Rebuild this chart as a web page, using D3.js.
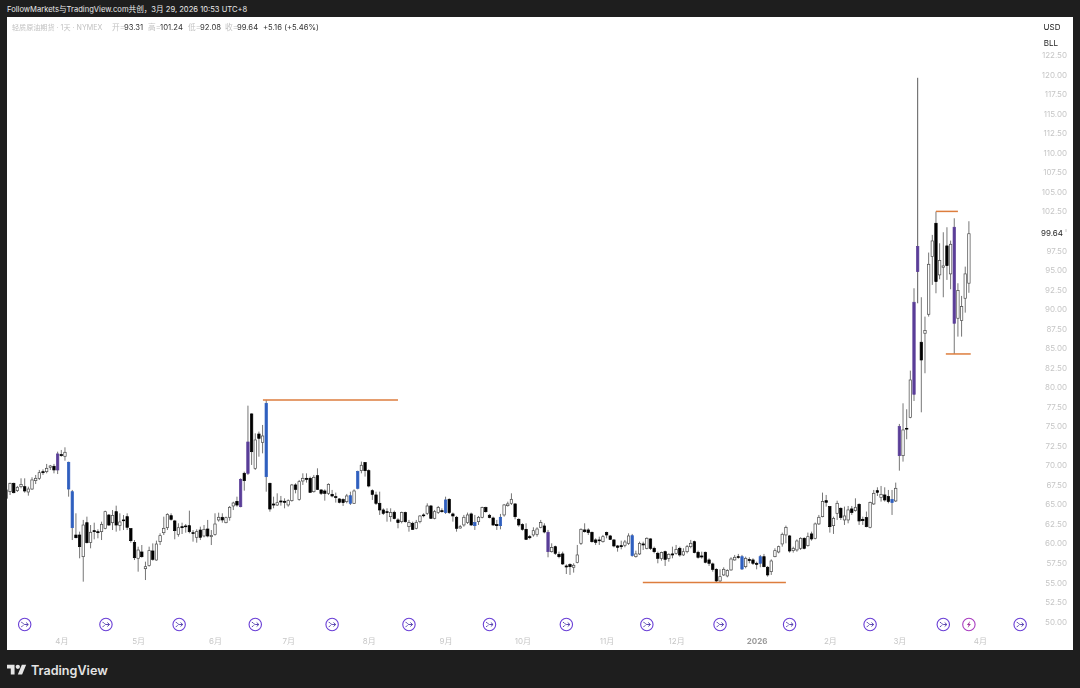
<!DOCTYPE html>
<html><head><meta charset="utf-8">
<script src="https://cdn.jsdelivr.net/npm/d3@7/dist/d3.min.js"></script>
<style>
html,body{margin:0;padding:0;background:#1e1e1e;width:1080px;height:688px;overflow:hidden}
text{font-family:Inter,"Noto Sans CJK SC",sans-serif}
</style></head><body>
<svg id="c" width="1080" height="688"></svg>
<script>
const opens=[65.77,66.62,67.69,66.75,67.26,67.26,66.58,66.96,68.03,68.33,69.18,69.18,69.74,69.87,69.40,71.36,71.15,70.38,66.62,61.07,61.07,58.30,62.65,60.13,61.63,61.50,61.50,61.93,63.63,62.65,64.06,62.31,63.0,63.42,61.89,60.13,58.09,58.90,56.76,57.15,59.03,57.87,60.22,61.37,62.01,63.55,62.87,61.16,62.14,62.23,62.27,61.37,60.78,61.71,60.95,61.84,60.86,61.12,63.0,63.34,62.65,63.34,64.79,65.38,64.70,68.97,68.97,76.57,69.61,74.0,72.94,68.54,67.69,65.04,64.91,65.43,65.39,64.92,65.47,67.48,65.64,67.99,68.33,68.33,66.62,68.67,66.84,66.71,66.41,66.28,65.98,65.69,65.6,65.34,66.11,65.13,67.05,69.31,70.34,69.31,66.75,66.2,65.13,64.28,64.06,63.42,63.98,63.0,62.78,63.94,62.14,62.57,61.93,62.78,63.64,63.85,64.79,63.21,63.94,64.19,63.94,65.64,63.77,63.34,61.97,62.36,62.66,63.77,62.66,62.78,63.34,64.58,63.6,63.25,62.4,62.27,63.64,64.83,65.13,65.05,63.08,62.4,61.8,60.86,61.08,61.16,62.06,62.23,61.42,58.94,59.58,58.6,58.65,57.11,57.28,56.94,57.54,60.01,61.72,61.72,61.42,60.44,60.44,60.22,61.38,60.95,60.44,59.67,59.71,59.76,60.01,60.99,58.3,58.65,59.93,59.37,60.57,59.37,58.73,58.05,58.94,58.05,58.65,58.73,59.37,58.52,58.94,59.58,60.22,58.86,58.39,58.86,57.88,57.37,56.68,55.19,55.96,55.83,56.6,57.88,58.3,56.72,57.02,57.92,57.88,57.45,57.45,58.3,56.94,56.38,58.3,58.9,59.93,61.08,60.95,59.07,59.16,59.37,60.65,59.71,61.21,60.65,62.49,63.42,65.47,64.71,62.27,63.85,64.49,63.0,63.0,64.41,64.19,65.0,63.08,63.3,62.06,65.05,66.75,65.86,66.2,65.99,65.64,65.43,71.23,71.23,74.73,76.14,79.09,94.79,85.75,86.9,89.33,96.71,100.98,94.37,95.35,98.08,94.5,100.47,88.82,88.52,91.38,93.31];
const highs=[67.26,67.77,67.77,67.35,68.33,68.33,67.26,68.46,68.76,69.40,69.48,70.17,70.04,70.17,71.74,71.96,72.30,70.46,66.84,63.85,61.50,63.0,63.42,62.35,62.65,61.80,62.78,64.19,63.76,64.27,64.83,63.85,63.63,63.85,61.93,60.43,59.58,59.79,57.66,59.58,60.0,60.35,61.29,63.42,63.85,63.85,63.0,62.57,62.65,62.48,64.19,61.71,61.80,62.14,62.35,63.0,61.71,63.85,63.93,63.85,63.42,64.79,65.34,65.98,68.33,69.18,77.63,76.65,74.09,74.31,75.16,78.36,67.77,65.98,66.41,66.07,65.77,65.64,67.61,67.69,68.12,68.97,68.97,68.55,68.76,69.61,66.92,66.92,67.69,66.84,66.5,65.77,65.77,66.33,66.62,66.92,69.31,70.47,70.42,69.48,66.92,66.62,66.62,64.49,64.49,64.49,64.19,63.21,64.06,64.06,63.0,62.78,63.0,63.6,63.85,65.13,64.92,64.28,64.79,64.49,65.98,65.77,63.94,63.51,62.36,63.64,63.94,63.94,63.64,63.51,64.7,64.7,63.77,63.42,63.0,63.77,65.05,65.34,66.41,65.13,63.21,62.57,62.57,61.08,62.06,62.06,63.0,62.57,61.72,60.01,59.71,58.94,58.94,57.32,57.45,57.45,59.8,61.93,62.57,61.93,61.5,60.65,60.86,61.08,61.5,61.08,60.52,59.8,60.35,60.44,61.29,61.21,59.07,60.22,60.22,60.78,60.65,59.58,58.94,58.94,59.07,58.73,59.58,59.8,59.58,59.37,59.8,60.44,60.35,59.07,58.94,58.94,58.09,57.54,56.81,56.68,56.94,56.68,58.22,58.52,58.65,58.52,58.3,58.22,58.09,57.66,58.52,58.65,57.11,57.96,59.37,59.71,61.38,62.27,61.08,59.58,60.52,60.78,60.78,61.38,61.5,62.66,63.64,66.5,66.2,64.79,63.42,65.47,64.62,64.71,64.79,64.79,65.77,65.13,63.42,64.07,65.35,66.84,67.18,67.35,67.18,66.84,66.84,67.78,75.29,77.93,77.17,82.12,92.66,119.6,91.51,89.03,97.23,99.49,102.48,98.42,99.83,100.47,98.76,101.62,93.3,91.68,95.43,101.24];
const lows=[65.34,66.20,66.41,66.58,67.05,66.49,66.11,66.84,67.60,68.12,68.76,68.97,69.40,68.97,68.88,71.10,70.59,65.98,60.43,60.65,58.09,55.10,60.0,59.37,60.52,60.65,60.43,61.80,62.23,61.71,61.50,61.63,61.71,61.71,60.09,57.87,56.38,58.17,55.31,57.02,57.79,57.79,59.79,61.07,61.71,62.91,60.52,60.86,61.20,61.37,61.29,60.22,60.09,60.43,60.78,60.78,59.79,60.99,62.78,62.65,62.57,62.91,64.27,64.70,64.62,66.75,68.76,70.04,69.40,71.10,71.53,66.62,64.06,64.49,64.79,64.83,64.49,64.7,65.34,66.41,65.47,67.48,67.78,66.5,66.5,66.84,66.2,65.47,66.2,65.9,65.22,65.13,64.79,65.13,64.92,65.05,66.92,68.97,68.55,67.18,65.56,64.92,63.64,63.64,62.78,62.78,63.08,61.93,62.57,62.66,61.5,61.72,61.8,62.57,63.34,63.64,63.13,63.08,63.77,63.94,63.77,63.77,62.78,61.5,61.89,62.14,62.48,62.23,61.72,62.36,63.21,63.94,63.21,62.23,61.72,61.8,63.42,64.7,64.92,63.08,62.14,61.63,60.44,60.52,60.86,60.86,61.93,61.29,58.22,58.82,58.52,58.09,57.24,56.08,55.96,56.26,57.45,59.8,61.38,61.08,60.1,59.8,59.8,60.1,60.65,60.44,59.5,58.94,59.24,59.5,59.8,58.3,58.18,58.52,59.16,59.24,59.16,58.73,57.45,57.79,57.11,57.66,58.09,58.56,58.3,58.39,58.73,59.37,58.73,58.05,58.05,57.45,57.11,56.38,54.97,54.97,55.83,55.66,56.51,57.79,58.05,56.6,56.81,57.45,57.24,56.68,56.94,56.94,55.74,55.96,58.22,58.73,59.58,60.01,58.82,58.82,58.94,59.16,59.24,59.58,60.35,60.52,62.36,63.34,64.71,61.38,61.21,63.0,63.0,62.36,62.57,63.64,64.07,62.36,62.36,62.06,61.93,64.92,66.07,65.35,65.35,65.13,63.64,65.3,69.31,70.47,73.33,76.02,78.23,90.74,76.78,81.78,89.03,93.09,92.02,93.81,91.51,93.73,92.53,84.25,86.47,86.47,89.54,92.08];
const closes=[66.84,67.69,66.49,67.18,67.52,66.71,66.96,68.12,68.33,69.05,69.05,69.61,69.91,69.40,71.45,71.23,71.66,66.96,62.01,60.73,59.58,62.35,60.09,61.42,61.50,61.37,62.44,64.06,62.35,63.59,62.35,62.74,62.91,62.06,60.35,58.17,59.15,58.30,57.02,59.07,57.96,59.92,60.99,61.93,63.72,63.08,61.63,62.01,62.01,62.14,61.50,61.29,61.50,60.78,61.80,60.95,61.03,62.48,63.34,63.0,63.29,64.62,65.17,64.91,68.20,68.03,72.98,71.74,73.24,73.45,73.75,77.93,64.40,64.91,65.21,65.3,65.26,65.47,67.48,66.92,67.9,68.33,68.2,66.54,68.46,66.92,66.41,66.41,67.56,66.07,65.86,65.26,65.22,66.07,65.13,66.71,69.19,70.0,69.31,67.35,66.28,65.13,64.28,63.85,63.94,63.94,63.17,62.66,63.94,62.78,62.66,61.8,62.7,63.51,63.55,64.79,63.21,64.06,64.58,64.06,65.56,63.94,63.51,61.93,62.14,63.34,63.64,62.36,62.27,63.34,64.58,64.06,63.3,62.36,62.27,63.34,64.92,65.05,65.64,63.42,62.36,61.8,60.52,60.73,61.63,61.84,62.66,61.46,58.94,59.46,58.73,58.3,57.37,56.98,57.02,57.2,58.52,61.8,61.5,61.38,60.22,60.14,60.35,60.86,61.08,60.52,59.67,59.5,59.58,60.18,60.95,58.43,58.65,60.01,59.8,60.65,59.37,58.94,58.09,58.82,57.96,58.6,58.52,59.24,58.52,58.94,59.58,60.01,58.82,58.22,58.26,57.58,57.45,56.68,55.19,55.74,56.68,56.51,58.0,58.22,58.22,58.3,58.09,57.79,57.45,57.32,58.3,57.02,55.96,57.75,59.07,59.58,61.16,62.02,59.03,59.37,60.31,60.65,59.37,60.86,60.57,62.49,63.34,65.35,65.26,62.14,63.21,65.13,63.3,63.51,64.28,63.94,64.62,62.87,62.91,62.14,65.22,66.41,66.54,66.28,65.56,65.35,65.22,67.05,74.95,74.52,74.65,80.92,90.87,98.0,83.48,87.24,95.73,98.72,93.51,96.2,95.52,95.56,98.29,88.18,92.36,90.31,94.5,99.64];
const blueBars=[17,18,71,94,96,120,128,135,171,201,206,242];
const purpleBars=[14,64,66,148,244,248,249,259];
const yTicks=d3.range(50,123,2.5);
const monthBars=[15,36,57,77,99,120,141,164,183,205,225,244,266];
const monthLabels=["4月","5月","6月","7月","8月","9月","10月","11月","12月","2026","2月","3月","4月"];
const flowEvents=[5,27.2,47.2,68,89,110,132,153,175,195,214,236,256,277];
const flashEvents=[263];
const levelPrices=[78.36,55.0,102.5,84.25];
const levelFrom=[70.1,173.9,254,256.7];
const levelTo=[107,213,260,263.5];

const svg=d3.select("#c");
const panel={l:7,r:1073,t:17,b:650};
const x=d3.scaleLinear().domain([0,263]).range([6.4,968.9]);
const y=d3.scaleLinear().domain([50,120]).range([621.5,74.7]);
const bg=svg.append("g");
bg.append("rect").attr("x",panel.l).attr("y",panel.t).attr("width",panel.r-panel.l).attr("height",panel.b-panel.t).attr("fill","#fff");
svg.append("clipPath").attr("id","p").append("rect").attr("x",panel.l).attr("y",panel.t).attr("width",panel.r-panel.l).attr("height",panel.b-panel.t);
const root=svg.append("g").attr("clip-path","url(#p)").attr("filter","url(#soft)");
const defs=svg.append("defs");
defs.append("filter").attr("id","soft").attr("x","-2%").attr("y","-2%").attr("width","104%").attr("height","104%").append("feGaussianBlur").attr("stdDeviation",0.3);

// y axis
const yA=root.append("g").attr("transform",`translate(1067,0)`).call(d3.axisLeft(y).tickValues(yTicks).tickSize(0).tickPadding(0).tickFormat(d3.format(".2f")));
yA.select(".domain").remove();
yA.selectAll("text").attr("fill","#c6c6c6").attr("font-size",8);
yA.selectAll(".tick").filter(d=>d===100).remove();
// x axis
const xA=root.append("g").attr("transform",`translate(0,638.5)`).call(d3.axisBottom(x).tickValues(monthBars).tickSize(0).tickPadding(0).tickFormat((d,i)=>monthLabels[i]));
xA.select(".domain").remove();
xA.selectAll("text").attr("fill",d=>d===205?"#9a9a9a":"#c6c6c6").attr("font-size",8).attr("font-weight",d=>d===205?700:400);

// candles
const tone=i=>blueBars.includes(i)?"#2f5fbf":purpleBars.includes(i)?"#5a3d98":null;
const idx=d3.range(opens.length);
const bw=2.4;
root.append("g").selectAll("line").data(idx).join("line")
 .attr("x1",x).attr("x2",x).attr("y1",i=>y(highs[i])).attr("y2",i=>y(lows[i]))
 .attr("stroke",i=>i===249?"#4a4a4a":"#666").attr("stroke-width",0.9);
root.append("g").selectAll("rect").data(idx).join("rect")
 .attr("x",i=>x(i)-bw/2).attr("width",bw)
 .attr("y",i=>y(Math.max(opens[i],closes[i])))
 .attr("height",i=>Math.max(0.8,Math.abs(y(opens[i])-y(closes[i]))))
 .attr("fill",i=>tone(i)||(closes[i]>=opens[i]?"#fff":"#000"))
 .attr("stroke",i=>tone(i)||(closes[i]>=opens[i]?"#4a4a4a":"#000"))
 .attr("stroke-width",0.7);

// levels
root.append("g").selectAll("line").data(levelPrices).join("line")
 .attr("x1",(d,i)=>x(levelFrom[i])).attr("x2",(d,i)=>x(levelTo[i]))
 .attr("y1",d=>y(d)).attr("y2",d=>y(d)).attr("stroke","#dd7d3e").attr("stroke-width",1.5);

// event icons
const iy=624.5;
const flow=root.append("g").selectAll("g").data(flowEvents).join("g").attr("transform",d=>`translate(${x(d)},${iy})`);
flow.append("circle").attr("r",6.2).attr("fill","#fff").attr("stroke","#6a3fd6").attr("stroke-width",1.1);
flow.append("path").attr("d","M-3.4,-2.2 C-1.6,-2.2 -1.6,0 0,0 L3.4,0 M1.4,-2 L3.6,0 L1.4,2 M-3.4,2.2 C-2.4,2.2 -2,1.4 -1.4,0.8").attr("fill","none").attr("stroke","#4b35a8").attr("stroke-width",0.9);
const flash=root.append("g").selectAll("g").data(flashEvents).join("g").attr("transform",d=>`translate(${x(d)},${iy})`);
flash.append("circle").attr("r",6.2).attr("fill","#fff").attr("stroke","#a93cc0").attr("stroke-width",1.1);
flash.append("path").attr("d","M1.3,-3.6 L-2,0.6 L-0.2,0.6 L-1.3,3.6 L2,-0.6 L0.2,-0.6 Z").attr("fill","#a0309a");

// price label + unit box
root.append("rect").attr("x",1038).attr("y",18).attr("width",30).attr("height",33.5).attr("fill","#fff");
root.append("text").attr("x",1052).attr("y",30).attr("text-anchor","middle").attr("font-size",8).attr("fill","#222").text("USD");
root.append("text").attr("x",1051).attr("y",46).attr("text-anchor","middle").attr("font-size",8).attr("fill","#222").text("BLL");
root.append("text").attr("x",1063).attr("y",y(closes[263])+2.4).attr("text-anchor","end").attr("font-size",8).attr("fill","#222").text(closes[263].toFixed(2));
root.append("line").attr("x1",1066).attr("x2",1066).attr("y1",229).attr("y2",232).attr("stroke","#bbb").attr("stroke-width",0.8);

// legend
const lg=root.append("g").attr("font-size",7.7);
const lgItems=[[12,"轻质原油期货 · 1天 · NYMEX","#c2c2c2",7.1],[112,"开=","#c2c2c2",7.7],[124,opens[263].toFixed(2),"#333",7.7],[148,"高=","#c2c2c2",7.7],[160,highs[263].toFixed(2),"#333",7.7],[188,"低=","#c2c2c2",7.7],[200,lows[263].toFixed(2),"#333",7.7],[225,"收=","#c2c2c2",7.7],[237,closes[263].toFixed(2),"#333",7.7],[263,"+5.16 (+5.46%)","#333",7.7]];
lg.selectAll("text").data(lgItems).join("text").attr("x",d=>d[0]).attr("y",29.7).attr("fill",d=>d[2]).attr("font-size",d=>d[3]).text(d=>d[1]);

// header and footer
svg.append("text").attr("x",7).attr("y",12).attr("font-size",7.6).attr("fill","#e8e8e8").text("FollowMarkets与TradingView.com共创，3月 29, 2026 10:53 UTC+8");
const logo=svg.append("g").attr("transform","translate(7,662.5) scale(.54)").attr("fill","#e6e6e6");
logo.append("path").attr("d","M14 22H7V11H0V4h14v18zM28 22h-8l7.5-18h8L28 22z");
logo.append("circle").attr("cx",20).attr("cy",8).attr("r",4);
svg.append("text").attr("x",31).attr("y",674.5).attr("font-size",12.6).attr("font-weight",600).attr("fill","#e4e4e4").text("TradingView");
</script>
</body></html>
